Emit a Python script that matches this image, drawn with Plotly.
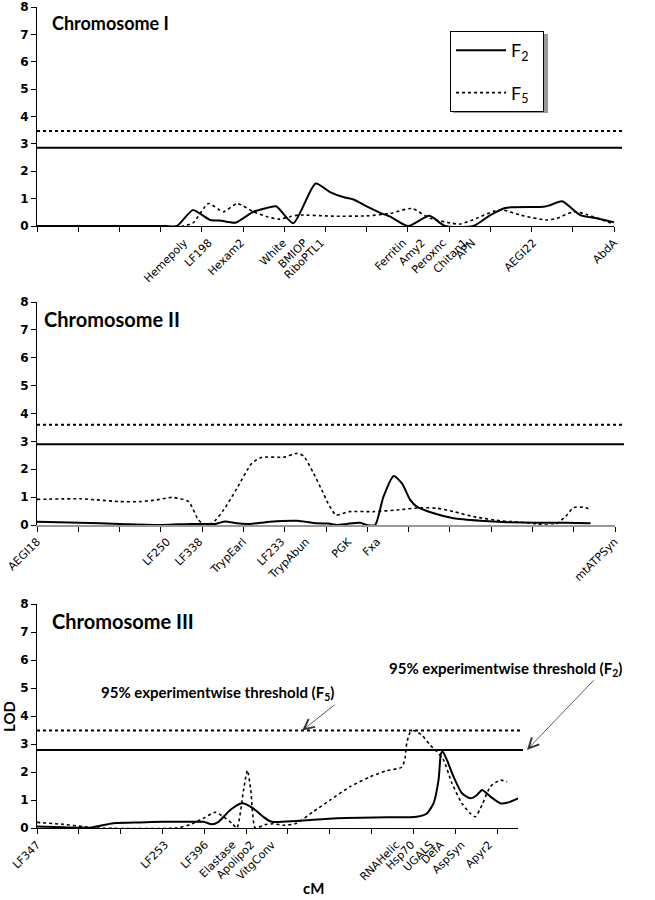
import plotly.graph_objects as go

# ---------------- data ----------------
top_F2_cM = [0, 31, 34, 37.8, 42, 44.4, 48.1, 52.5, 55.3, 58, 62.2, 67.6, 71.1, 74.3, 76.8, 80, 83.3, 85.7, 90.1, 95.2, 99, 105.9, 110, 113.6, 122.9, 124.5, 127.4, 131.8, 135.8, 140]
top_F2 = [0, 0, 0, 0.58, 0.22, 0.2, 0.12, 0.52, 0.64, 0.72, 0.1, 1.55, 1.24, 1.06, 0.97, 0.72, 0.48, 0.34, 0, 0.37, 0, 0, 0.4, 0.66, 0.7, 0.76, 0.9, 0.4, 0.28, 0.14]
top_F5_cM = [0, 35.5, 37.9, 41.6, 45.2, 48.6, 52.5, 55.8, 58.6, 61.4, 63.4, 71.9, 80, 85.7, 90.9, 95.4, 100.7, 102.7, 106.7, 110.8, 113.2, 117.2, 123.7, 126.1, 130.2, 133.4, 139.9]
top_F5 = [0, 0, 0.12, 0.82, 0.52, 0.82, 0.52, 0.34, 0.25, 0.34, 0.4, 0.36, 0.37, 0.46, 0.64, 0.28, 0.1, 0.07, 0.28, 0.54, 0.58, 0.4, 0.22, 0.28, 0.52, 0.42, 0.07]

mid_F2_cM = [0, 10.4, 20.1, 30.6, 37.1, 43.2, 45.6, 48.4, 51.6, 56.5, 63, 67.8, 70.6, 72.7, 75.1, 78.3, 79.9, 81.9, 83.9, 86.4, 88.4, 90.4, 92, 96.1, 100.9, 107.4, 113.9, 121.1, 128.4, 134.1]
mid_F2 = [0.12, 0.08, 0.04, 0, 0.04, 0.04, 0.13, 0.06, 0.04, 0.12, 0.15, 0.06, 0.05, 0, 0.04, 0.08, 0, 0, 1.01, 1.76, 1.49, 0.9, 0.66, 0.42, 0.24, 0.15, 0.1, 0.08, 0.08, 0.06]
mid_F5_cM = [0, 10.4, 14.5, 20.1, 25, 29, 32.7, 36.7, 39.1, 40.3, 42.4, 45.2, 48.4, 52, 54.5, 59.7, 63, 64.6, 67, 69, 70.5, 72.4, 75.6, 81.5, 87.2, 92.9, 97, 100.9, 105.8, 112.2, 117.1, 121.1, 125.2, 128, 130, 132.5, 134.1]
mid_F5 = [0.92, 0.94, 0.9, 0.84, 0.84, 0.9, 0.99, 0.84, 0.18, 0.04, 0.06, 0.54, 1.31, 2.21, 2.43, 2.43, 2.57, 2.47, 1.85, 1.25, 0.78, 0.36, 0.48, 0.48, 0.54, 0.62, 0.6, 0.48, 0.3, 0.15, 0.1, 0.04, 0, 0.3, 0.63, 0.63, 0.56]

bot_F2_cM = [0, 6.3, 12.7, 15.1, 18.3, 24.6, 30.2, 35.8, 39.8, 41.8, 43.4, 46.2, 49, 51.7, 54.1, 56.1, 62.1, 71.7, 83.7, 90.8, 93.2, 94.8, 96, 96.6, 97, 98, 99.6, 101.6, 103.6, 105.2, 106.4, 108.4, 110.8, 112.4, 115]
bot_F2 = [0.05, 0.03, 0.01, 0.08, 0.17, 0.2, 0.22, 0.22, 0.22, 0.13, 0.22, 0.64, 0.88, 0.7, 0.4, 0.22, 0.25, 0.35, 0.38, 0.4, 0.52, 0.88, 1.71, 2.66, 2.72, 2.43, 1.83, 1.24, 1.06, 1.18, 1.36, 1.12, 0.88, 0.9, 1.06]
bot_F5_cM = [0, 6.3, 11.1, 14.3, 33.4, 36.6, 39.8, 42.6, 44.6, 46.6, 47.8, 49.4, 50.3, 51.1, 52.2, 54.5, 56.5, 59, 62.1, 66.1, 70.1, 74.9, 79.7, 83.7, 87.2, 88, 88.4, 89.2, 90, 92, 94, 95.6, 97.2, 99.2, 101.6, 103.6, 104.8, 106.4, 108.4, 110.8, 112.4]
bot_F5 = [0.2, 0.13, 0.05, 0, 0, 0.12, 0.35, 0.56, 0.4, 0.17, 0, 1.37, 2.06, 1.37, 0, 0.12, 0.15, 0.1, 0.17, 0.59, 1.0, 1.48, 1.83, 2.05, 2.17, 2.5, 3.03, 3.41, 3.48, 3.32, 2.96, 2.73, 2.43, 1.6, 0.88, 0.52, 0.4, 0.82, 1.48, 1.71, 1.65]

top_markers = ["Hemepoly", "LF198", "Hexam2", "White", "BMIOP", "RiboPTL1", "Ferritin", "Amy2", "Peroxnc", "Chitan1", "APN", "AEGI22", "AbdA"]
top_marker_cM = [35.7, 41.7, 49.5, 59.7, 64.8, 68.9, 88.8, 93.4, 98.5, 103.6, 105.6, 120.4, 140]
mid_markers = ["AEGI18", "LF250", "LF338", "TrypEarl", "LF233", "TrypAbun", "PGK", "Fxa", "mtATPSyn"]
mid_marker_cM = [0, 31.5, 39.3, 49.9, 59.2, 65.2, 75.4, 82.4, 139.9]
bot_markers = ["LF347", "LF253", "LF396", "Elastase", "Apolipo2", "VitgConv", "RNAHelic", "Hsp70", "UGALS", "DefA", "AspSyn", "Apyr2"]
bot_marker_cM = [0, 30.6, 40.2, 46.8, 51.2, 56.2, 85.9, 89.5, 94, 96.5, 101.5, 108.1]

thr_F2 = [2.86, 2.9, 2.79]
thr_F5 = [3.47, 3.6, 3.48]
x_max = [140, 140, 115]
titles = ["Chromosome I", "Chromosome II", "Chromosome III"]
series_names = ["F<sub>2</sub>", "F<sub>5</sub>"]

# ---------------- layout geometry (pixels of 655x900 page) ----------------
W, H = 655, 900
def px(x): return x / W
def py(y): return 1 - y / H

panels = [
    dict(x0=37, x1=614, ytop=7, ybot=226, thr_end=622, axcol="black", axw=1, title_x=50, title_y=23, title_size=18),
    dict(x0=37, x1=615, ytop=302, ybot=525, thr_end=624, axcol="#9a9a9a", axw=2, title_x=42, title_y=319, title_size=20),
    dict(x0=37, x1=518, ytop=604, ybot=828, thr_end=523, axcol="black", axw=1, title_x=50, title_y=621, title_size=20),
]

FONT = "DejaVu Sans"
TFONT = "Lato"
PAD = "&nbsp;" * 2

fig = go.Figure()

curves = [(top_F2_cM, top_F2, top_F5_cM, top_F5),
          (mid_F2_cM, mid_F2, mid_F5_cM, mid_F5),
          (bot_F2_cM, bot_F2, bot_F5_cM, bot_F5)]
markers = [(top_markers, top_marker_cM), (mid_markers, mid_marker_cM), (bot_markers, bot_marker_cM)]

for i, (c2x, c2, c5x, c5) in enumerate(curves):
    xa = "x" if i == 0 else f"x{i+1}"
    ya = "y" if i == 0 else f"y{i+1}"
    fig.add_trace(go.Scatter(x=c2x, y=c2, xaxis=xa, yaxis=ya, mode="lines",
                             line=dict(color="black", width=2, shape="spline", smoothing=0.6),
                             name=series_names[0] + PAD, showlegend=(i == 0), legendgroup="f2"))
    fig.add_trace(go.Scatter(x=c5x, y=c5, xaxis=xa, yaxis=ya, mode="lines",
                             line=dict(color="black", width=1.6, dash="dot", shape="spline", smoothing=0.6),
                             name=series_names[1] + PAD, showlegend=(i == 0), legendgroup="f5"))
    names, pos = markers[i]
    fig.add_trace(go.Scatter(x=pos, y=[0] * len(pos), xaxis=f"x{i+4}", yaxis=ya, mode="markers",
                             marker=dict(opacity=0), showlegend=False, hoverinfo="skip"))

layout = dict(width=W, height=H, margin=dict(l=0, r=0, t=0, b=0, autoexpand=False),
              paper_bgcolor="white", plot_bgcolor="white", showlegend=True)

shapes = []
annotations = []
for i, p in enumerate(panels):
    sfx = "" if i == 0 else str(i + 1)
    ydom = [py(p["ybot"]), py(p["ytop"])]
    xdom = [px(p["x0"]), px(p["x1"])]
    layout[f"xaxis{sfx}"] = dict(domain=xdom, anchor=f"y{sfx}", range=[0, x_max[i]], automargin=False,
                                 tickmode="linear", tick0=0, dtick=10, ticks="outside", ticklen=5,
                                 tickcolor="black", showticklabels=False, showline=True,
                                 linecolor=p["axcol"], linewidth=p["axw"], showgrid=False, zeroline=False)
    layout[f"yaxis{sfx}"] = dict(domain=ydom, anchor=f"x{sfx}", range=[0, 8], tickmode="linear",
                                 tick0=0, dtick=1, ticks="outside", ticklen=5, tickcolor="black",
                                 automargin=False, showline=True, linecolor="black", linewidth=1,
                                 showgrid=False, zeroline=False,
                                 tickfont=dict(family=FONT, size=12, color="black", weight="bold"))
    names, pos = markers[i]
    layout[f"xaxis{i+4}"] = dict(overlaying=f"x{sfx}", anchor=f"y{sfx}", side="bottom", automargin=False,
                                 range=[0, x_max[i]], tickmode="array", tickvals=pos, ticktext=names,
                                 ticks="outside", ticklen=5, tickcolor="rgba(0,0,0,0)",
                                 showline=False, showgrid=False, zeroline=False,
                                 tickangle=-45, tickfont=dict(family=FONT, size=11, color="black"))
    shapes.append(dict(type="line", xref="paper", yref=f"y{sfx}", x0=px(p["x0"]), x1=px(p["thr_end"]),
                       y0=thr_F2[i], y1=thr_F2[i], line=dict(color="black", width=2)))
    shapes.append(dict(type="line", xref="paper", yref=f"y{sfx}", x0=px(p["x0"]), x1=px(p["thr_end"]),
                       y0=thr_F5[i], y1=thr_F5[i], line=dict(color="black", width=2, dash="dot")))
    annotations.append(dict(text=f"<b>{titles[i]}</b>", xref="paper", yref="paper",
                            x=px(p["title_x"]), y=py(p["title_y"]), xanchor="left", yanchor="middle",
                            showarrow=False, font=dict(family=TFONT, size=p["title_size"], color="black")))

# LOD axis title
annotations.append(dict(text="<b>LOD</b>", xref="paper", yref="paper", x=px(9), y=py(717),
                        textangle=-90, xanchor="center", yanchor="middle", showarrow=False,
                        font=dict(family=TFONT, size=15, color="black")))

# threshold annotations in bottom panel
annotations.append(dict(text="<b>95% experimentwise threshold (F<sub>5</sub>)</b>", xref="paper", yref="paper",
                        x=px(99), y=py(693), xanchor="left", yanchor="middle", showarrow=False,
                        font=dict(family=TFONT, size=15, color="black")))
annotations.append(dict(text="<b>95% experimentwise threshold (F<sub>2</sub>)</b>", xref="paper", yref="paper",
                        x=px(387), y=py(669), xanchor="left", yanchor="middle", showarrow=False,
                        font=dict(family=TFONT, size=15, color="black")))
annotations.append(dict(text="", x=63.4, y=thr_F5[2], xref="x3", yref="y3", showarrow=True,
                        ax=34, ay=-27, arrowhead=5, arrowsize=2.5, arrowwidth=0.8, arrowcolor="#333333"))
annotations.append(dict(text="", x=px(527), y=thr_F2[2], xref="paper", yref="y3", showarrow=True,
                        ax=68, ay=-71, arrowhead=5, arrowsize=2.5, arrowwidth=0.8, arrowcolor="#333333"))
annotations.append(dict(text="<b>cM</b>", xref="paper", yref="paper", x=px(313), y=py(888),
                        xanchor="center", yanchor="middle", showarrow=False,
                        font=dict(family=TFONT, size=15, color="black")))

# legend shadow (offset 3 px right/down from the legend box)
shapes.append(dict(type="rect", xref="paper", yref="paper", x0=px(453), x1=px(548), y0=py(113), y1=py(34),
                   fillcolor="#9a9a9a", line=dict(width=0), layer="below"))

layout["shapes"] = shapes
layout["annotations"] = annotations
layout["legend"] = dict(x=px(450), y=py(31), xanchor="left", yanchor="top", bgcolor="white",
                        bordercolor="black", borderwidth=1, font=dict(family=TFONT, size=18, color="black"),
                        tracegroupgap=16, itemwidth=50)

fig.update_layout(**layout)
fig.write_html("out.html", config={"displayModeBar": False},
               post_script="document.body.style.margin='0';")
